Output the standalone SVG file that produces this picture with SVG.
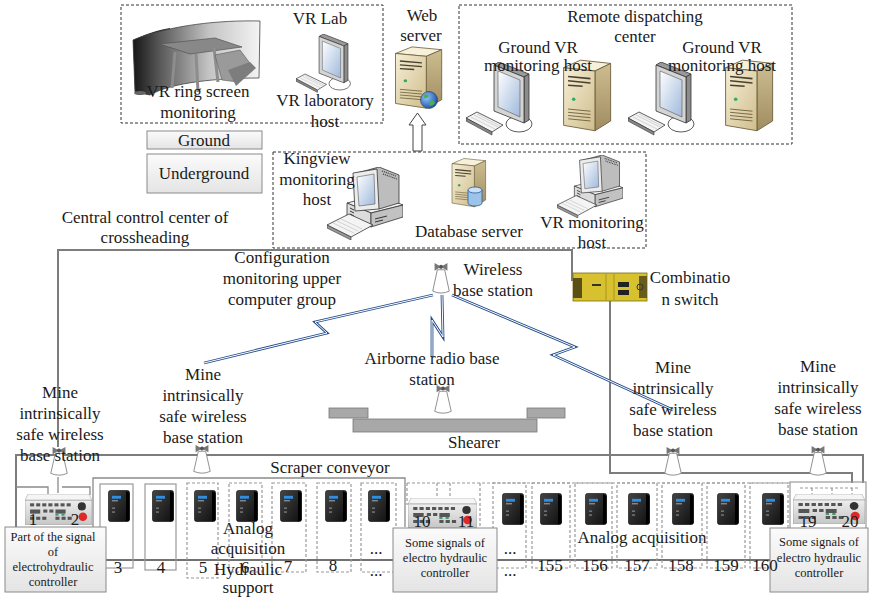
<svg xmlns="http://www.w3.org/2000/svg" width="874" height="599" viewBox="0 0 874 599" font-family="'Liberation Serif', 'Times New Roman', 'DejaVu Serif', serif">
<defs>
<style>
.t{font-family:'Liberation Serif','Times New Roman','DejaVu Serif',serif;font-size:17px;fill:#1a1a1a;text-anchor:middle}
.s{font-size:12.5px}
.gl{stroke:#7d7d7d;stroke-width:2;fill:none}
.thin{stroke:#8a8a8a;stroke-width:1.3;fill:none}
.dbox{stroke:#333;stroke-width:1;stroke-dasharray:3 2;fill:none}
.col{stroke:#9a9a9a;stroke-width:1.2;stroke-dasharray:3 2;fill:none}
.solidcol{stroke:#9a9a9a;stroke-width:1.2;fill:none}
.boltO{stroke:#27508f;stroke-width:2.8;fill:none;stroke-linejoin:miter}
.boltI{stroke:#fff;stroke-width:1;fill:none;stroke-linejoin:miter}
.lbl{fill:url(#gBox);stroke:#8a8a8a;stroke-width:1}
</style>
<linearGradient id="gSrvFront" x1="0" y1="0" x2="1" y2="1"><stop offset="0" stop-color="#f6efd6"/><stop offset="1" stop-color="#cfbd8c"/></linearGradient>
<linearGradient id="gSrvSide" x1="0" y1="0" x2="0" y2="1"><stop offset="0" stop-color="#cdbd8f"/><stop offset="1" stop-color="#a08d62"/></linearGradient>
<linearGradient id="gScreen" x1="0" y1="0" x2="1" y2="1"><stop offset="0" stop-color="#ffffff"/><stop offset="1" stop-color="#9fb9dc"/></linearGradient>
<linearGradient id="gRing" x1="0" y1="0" x2="1" y2="0"><stop offset="0" stop-color="#151515"/><stop offset="0.2" stop-color="#555"/><stop offset="0.6" stop-color="#c4c4c4"/><stop offset="1" stop-color="#f4f4f4"/></linearGradient>
<linearGradient id="gBox" x1="0" y1="0" x2="0" y2="1"><stop offset="0" stop-color="#fbfbfb"/><stop offset="1" stop-color="#e4e4e4"/></linearGradient>
<linearGradient id="gInv" x1="0" y1="0" x2="1" y2="1"><stop offset="0" stop-color="#444"/><stop offset="1" stop-color="#0e0e0e"/></linearGradient>
<linearGradient id="gCtl" x1="0" y1="0" x2="0" y2="1"><stop offset="0" stop-color="#eeeeee"/><stop offset="1" stop-color="#c6c6c6"/></linearGradient>
<radialGradient id="gGlobe" cx="0.35" cy="0.35" r="0.7"><stop offset="0" stop-color="#8fc4ff"/><stop offset="1" stop-color="#1d4fa8"/></radialGradient>

<symbol id="srv" viewBox="0 0 50 70" preserveAspectRatio="none">
<polygon points="5,9 20,2 47,5 33,12" fill="#f7f1dc" stroke="#6b5d3a" stroke-width="0.8"/>
<polygon points="33,12 47,5 47,58 33,67" fill="url(#gSrvSide)" stroke="#6b5d3a" stroke-width="0.8"/>
<polygon points="5,9 33,12 33,67 5,62" fill="url(#gSrvFront)" stroke="#6b5d3a" stroke-width="0.8"/>
<path d="M9,17 L29,19 M9,21 L29,23 M9,25 L22,26" stroke="#4a4030" stroke-width="1.4"/>
<circle cx="14" cy="38" r="1.6" fill="#3a6"/>
<path d="M9,47 L29,49 M9,50 L29,52 M9,53 L29,55 M9,56 L29,58" stroke="#6b5d3a" stroke-width="0.8"/>
</symbol>

<symbol id="lcd" viewBox="0 0 80 75" preserveAspectRatio="none">
<ellipse cx="53" cy="62" rx="13" ry="8" fill="#fff" stroke="#333" stroke-width="0.8"/>
<polygon points="28,3 33,0 63,12 58,15" fill="#9a9a9a" stroke="#333" stroke-width="0.8"/>
<polygon points="58,15 63,12 63,58 58,61" fill="#8c8c8c" stroke="#333" stroke-width="0.8"/>
<polygon points="28,3 58,15 58,61 28,49" fill="#d4d4d4" stroke="#333" stroke-width="0.8"/>
<polygon points="32,9 54,18 54,55 32,45" fill="url(#gScreen)" stroke="#555" stroke-width="0.6"/>
<polygon points="0,56 11,50 37,63 26,70" fill="#f4f4f4" stroke="#333" stroke-width="0.8"/>
<polygon points="0,56 26,70 26,73 0,59" fill="#888" stroke="#333" stroke-width="0.6"/>
<path d="M5,55 L29,67 M8,53 L32,65 M11,52 L34,64" stroke="#bbb" stroke-width="0.6"/>
</symbol>

<symbol id="pc" viewBox="0 0 76 73" preserveAspectRatio="none">
<polygon points="20,36 52,28 76,38 44,46" fill="#f4f4f4" stroke="#333" stroke-width="0.8"/>
<polygon points="20,36 44,46 44,60 20,50" fill="#dcdcdc" stroke="#333" stroke-width="0.8"/>
<polygon points="44,46 76,38 76,50 44,60" fill="#c2c2c2" stroke="#333" stroke-width="0.8"/>
<path d="M23,41 L27,43 M23,44 L27,46 M23,47 L27,49 M48,52 L60,49 M48,55 L56,53" stroke="#333" stroke-width="1"/>
<polygon points="30,6 52,0 72,8 72,36 52,42" fill="#bdbdbd" stroke="#333" stroke-width="0.8"/>
<polygon points="26,6 50,2 52,42 28,44" fill="#ececec" stroke="#333" stroke-width="0.8"/>
<polygon points="30,10 47,7 48,37 32,39" fill="url(#gScreen)" stroke="#555" stroke-width="0.6"/>
<path d="M55,4 L69,9 M56,7 L70,12" stroke="#333" stroke-width="1.2" stroke-dasharray="1 1"/>
<polygon points="0,58 22,47 46,58 24,70" fill="#f4f4f4" stroke="#333" stroke-width="0.8"/>
<polygon points="0,58 24,70 24,73 0,61" fill="#999" stroke="#333" stroke-width="0.6"/>
<path d="M6,56 L27,66 M10,54 L31,64 M14,52 L35,62" stroke="#bbb" stroke-width="0.6"/>
</symbol>

<symbol id="bs" viewBox="0 0 24 34" preserveAspectRatio="none">
<path d="M8,8 L16,8 L21,30 Q12,34 3,30 Z" fill="#fff" stroke="#888" stroke-width="1"/>
<path d="M5,1 L12,5 L19,1 L19,9 L12,5 L5,9 Z" fill="#777"/>
<circle cx="12" cy="5" r="2.2" fill="#555"/>
</symbol>

<symbol id="inv" viewBox="0 0 22 33" preserveAspectRatio="none">
<rect x="0.5" y="0.5" width="21" height="32" rx="2" fill="url(#gInv)" stroke="#000" stroke-width="0.6"/>
<polygon points="18,1 21.5,3 21.5,31 18,32.5" fill="#000"/>
<rect x="4" y="6" width="9" height="3" fill="#2f8ee0"/>
<rect x="4" y="10.5" width="6" height="1.2" fill="#999"/>
<rect x="4" y="18" width="3" height="1.5" fill="#777"/>
<rect x="4" y="22" width="3" height="1.5" fill="#777"/>
</symbol>

<symbol id="ctl" viewBox="0 0 66 30" preserveAspectRatio="none">
<polygon points="3,0 63,0 66,6 0,6" fill="#f5f5f5" stroke="#aaa" stroke-width="0.6"/>
<rect x="0" y="6" width="66" height="24" fill="url(#gCtl)" stroke="#999" stroke-width="0.6"/>
<g fill="#555">
<rect x="5" y="9" width="4" height="3"/><rect x="11" y="9" width="4" height="3"/><rect x="17" y="9" width="4" height="3"/><rect x="23" y="9" width="4" height="3"/><rect x="29" y="9" width="4" height="3"/><rect x="35" y="9" width="4" height="3"/><rect x="41" y="9" width="4" height="3"/>
<rect x="5" y="15" width="10" height="4"/><rect x="18" y="15" width="4" height="3"/><rect x="24" y="15" width="4" height="3"/><rect x="30" y="15" width="10" height="4"/>
<rect x="5" y="22" width="4" height="3"/><rect x="11" y="22" width="4" height="3"/><rect x="17" y="22" width="4" height="3"/><rect x="30" y="22" width="4" height="3"/><rect x="36" y="22" width="4" height="3"/><rect x="42" y="22" width="4" height="3"/>
</g>
<g fill="#3a9a70"><rect x="30" y="19" width="3" height="2"/><rect x="36" y="19" width="3" height="2"/></g>
<circle cx="56" cy="12" r="4" fill="#333"/>
<circle cx="57" cy="22" r="4.2" fill="#e02828"/>
</symbol>
</defs>

<rect width="874" height="599" fill="#fff"/>

<!-- ground-level facilities -->
<g id="vr-lab">
<rect class="dbox" x="121" y="5" width="262" height="118"/>
<path d="M133,40 C150,32 160,30 170,28 L170,38 C160,40 152,44 150,48 L150,95 L135,92 Z" fill="#2a2a2a"/>
<path d="M133,40 C170,25 220,20 260,21 L259,78 C220,78 172,82 150,95 L135,92 Z" fill="url(#gRing)" stroke="#444" stroke-width="0.8"/>
<polygon points="160,44 215,38 242,47 190,54" fill="#888" stroke="#555" stroke-width="0.7"/>
<path d="M175,52 L172,88 M196,54 L198,92 M214,48 L218,82" stroke="#8d8d8d" stroke-width="3"/>
<polygon points="215,55 240,50 252,66 238,82 222,80" fill="#9a9a9a" stroke="#666" stroke-width="0.7"/>
<polygon points="228,70 250,62 256,68 236,86" fill="#7d7d7d"/>
<ellipse cx="140" cy="93" rx="6" ry="2" fill="#666"/>
<use href="#lcd" x="296" y="34" width="66" height="60"/>
<text class="t" x="320" y="24">VR Lab</text>
<text class="t" x="198" y="97">VR ring screen</text>
<text class="t" x="198" y="118">monitoring</text>
<text class="t" x="325" y="106">VR laboratory</text>
<text class="t" x="325" y="127">host</text>
</g>

<g id="ground-label">
<rect class="lbl" x="147" y="131" width="115" height="18"/>
<text class="t" x="204" y="146">Ground</text>
</g>
<g id="underground-label">
<rect class="lbl" x="147" y="154" width="115" height="39"/>
<text class="t" x="204" y="179">Underground</text>
</g>

<g id="web-server">
<use href="#srv" x="390" y="45" width="55" height="66"/>
<circle cx="429" cy="100" r="8.5" fill="url(#gGlobe)" stroke="#234" stroke-width="0.6"/>
<path d="M424,95 Q427,93 429,96 Q427,99 424,98 Z M430,101 Q434,99 435,103 Q432,107 429,105 Z" fill="#4caf50"/>
<text class="t" x="422" y="21">Web</text>
<text class="t" x="421" y="41">server</text>
</g>

<g id="remote-dispatching-center">
<rect class="dbox" x="459" y="5" width="333" height="139"/>
<use href="#lcd" x="466" y="62" width="80" height="75"/>
<use href="#srv" x="558" y="58" width="56" height="76"/>
<use href="#lcd" x="628" y="62" width="80" height="75"/>
<use href="#srv" x="720" y="58" width="56" height="76"/>
<text class="t" x="635" y="22">Remote dispatching</text>
<text class="t" x="635" y="42">center</text>
<text class="t" x="538" y="53">Ground VR</text>
<text class="t" x="538" y="71">monitoring host</text>
<text class="t" x="722" y="53">Ground VR</text>
<text class="t" x="722" y="71">monitoring host</text>
</g>

<g id="uplink-arrow">
<polygon points="417.5,113 426,125 422,125 422,151 413,151 413,125 409,125" fill="#fff" stroke="#444" stroke-width="1"/>
</g>

<!-- connectors -->
<g id="connectors">
<path class="gl" d="M58,447 L58,250 L572,250 L572,280 L578,280"/>
<path class="gl" d="M610,300 L610,473 L852,473 L852,483"/>
<path class="gl" d="M16,527 L16,455 L863,455 L863,483"/>
<path class="thin" d="M16,487 L48,487 L48,495 M58,477 L58,493 M62,487 L90,487 L90,495"/>
<path class="thin" d="M93,530 L93,478 L405,478 L405,527"/>
<path d="M106,560 L393,560 M497,560 L770,560" stroke="#444" stroke-width="1.4" fill="none"/>
<path class="boltO" d="M433,295 L315,322 L327,333 L204,363"/>
<path class="boltI" d="M433,295 L315,322 L327,333 L204,363"/>
<path class="boltO" d="M442,295 L443,337 L432,320 L432,357"/>
<path class="boltI" d="M442,295 L443,337 L432,320 L432,357"/>
<path class="boltO" d="M452,295 L575,347 L553,355 L673,410"/>
<path class="boltI" d="M452,295 L575,347 L553,355 L673,410"/>
</g>

<!-- underground control room -->
<g id="kingview-group">
<rect class="dbox" x="273" y="152" width="373" height="96"/>
<use href="#pc" x="327" y="167" width="76" height="73"/>
<text class="t" x="317" y="164">Kingview</text>
<text class="t" x="317" y="185">monitoring</text>
<text class="t" x="317" y="205">host</text>
</g>
<g id="database-server">
<use href="#srv" x="448" y="157" width="40" height="52"/>
<path d="M468,190 L468,203 A7,3 0 0 0 482,203 L482,190" fill="#9cc3ea" stroke="#2a5e9a" stroke-width="0.8"/>
<ellipse cx="475" cy="190" rx="7" ry="3" fill="#c9e0f6" stroke="#2a5e9a" stroke-width="0.8"/>
<text class="t" x="469" y="237">Database server</text>
</g>
<g id="vr-monitoring-host">
<use href="#pc" x="557" y="155" width="66" height="63"/>
<text class="t" x="592" y="228">VR monitoring</text>
<text class="t" x="592" y="248">host</text>
</g>

<g id="central-control">
<text class="t" x="145" y="223">Central control center of</text>
<text class="t" x="145" y="243">crossheading</text>
<text class="t" x="282" y="263">Configuration</text>
<text class="t" x="282" y="284">monitoring upper</text>
<text class="t" x="282" y="305">computer group</text>
</g>

<g id="wireless-base-station">
<use href="#bs" x="430" y="262" width="22" height="33"/>
<text class="t" x="493" y="275">Wireless</text>
<text class="t" x="493" y="296">base station</text>
</g>

<g id="combination-switch">
<rect x="573" y="273" width="74" height="28" fill="#d8c12e" stroke="#7d6d12" stroke-width="0.8"/>
<rect x="573" y="278" width="9" height="20" fill="#5b4f18"/>
<rect x="639" y="276" width="8" height="22" fill="#6a5c1a"/>
<path d="M606,274 L606,300 M614,274 L614,300" stroke="#9c8a20" stroke-width="0.8"/>
<rect x="592" y="284" width="9" height="2" fill="#333"/>
<rect x="618" y="282" width="11" height="5" fill="#222"/>
<rect x="618" y="290" width="11" height="5" fill="#222"/>
<circle cx="640" cy="287" r="3" fill="none" stroke="#333" stroke-width="1"/>
<text class="t" x="690" y="283">Combinatio</text>
<text class="t" x="690" y="305">n switch</text>
</g>

<g id="airborne-radio-base-station">
<use href="#bs" x="432" y="384" width="22" height="31"/>
<text class="t" x="432" y="364">Airborne radio base</text>
<text class="t" x="432" y="385">station</text>
</g>

<g id="shearer">
<rect x="329" y="408" width="39" height="10" fill="#a8a8a8" stroke="#777" stroke-width="0.8"/>
<rect x="527" y="408" width="38" height="10" fill="#a8a8a8" stroke="#777" stroke-width="0.8"/>
<rect x="353" y="419" width="184" height="13" fill="#a8a8a8" stroke="#777" stroke-width="0.8"/>
<text class="t" x="474" y="448">Shearer</text>
</g>

<g id="mine-base-station-1">
<use href="#bs" x="48" y="446" width="22" height="31"/>
<text class="t" x="60" y="398">Mine</text>
<text class="t" x="60" y="419">intrinsically</text>
<text class="t" x="60" y="440">safe wireless</text>
<text class="t" x="60" y="461">base station</text>
</g>
<g id="mine-base-station-2">
<use href="#bs" x="191" y="444" width="22" height="31"/>
<text class="t" x="203" y="380">Mine</text>
<text class="t" x="203" y="401">intrinsically</text>
<text class="t" x="203" y="422">safe wireless</text>
<text class="t" x="203" y="443">base station</text>
</g>
<g id="mine-base-station-3">
<use href="#bs" x="662" y="446" width="22" height="31"/>
<text class="t" x="673" y="373">Mine</text>
<text class="t" x="673" y="394">intrinsically</text>
<text class="t" x="673" y="415">safe wireless</text>
<text class="t" x="673" y="436">base station</text>
</g>
<g id="mine-base-station-4">
<use href="#bs" x="807" y="445" width="22" height="32"/>
<text class="t" x="818" y="372">Mine</text>
<text class="t" x="818" y="393">intrinsically</text>
<text class="t" x="818" y="414">safe wireless</text>
<text class="t" x="818" y="435">base station</text>
</g>

<!-- hydraulic support row -->
<g id="support-columns">
<rect class="solidcol" x="100" y="484" width="33" height="84"/>
<rect class="solidcol" x="145" y="484" width="31" height="86"/>
<rect class="col" x="187" y="483" width="31" height="95"/>
<rect class="col" x="229" y="483" width="33" height="89"/>
<rect class="col" x="272" y="483" width="34" height="89"/>
<rect class="col" x="317" y="483" width="34" height="89"/>
<rect class="col" x="361" y="483" width="35" height="89"/>
<path class="col" d="M407,483 L790,483 M407,483 L407,505 M437,483 L437,496 M450,483 L450,496 M480,483 L480,560"/>
<rect class="col" x="493" y="483" width="33" height="85"/>
<rect class="col" x="532" y="483" width="38" height="85"/>
<rect class="col" x="575" y="483" width="37" height="85"/>
<rect class="col" x="617" y="483" width="40" height="85"/>
<rect class="col" x="662" y="483" width="40" height="85"/>
<rect class="col" x="707" y="483" width="38" height="85"/>
<rect class="col" x="750" y="483" width="38" height="85"/>
<rect class="solidcol" x="790" y="482" width="76" height="50"/>
<path class="col" d="M800,488 L860,488 M812,488 L812,495 M832,488 L832,495 M852,488 L852,495"/>
</g>

<g id="inverters">
<use href="#inv" x="108" y="490" width="22" height="32"/>
<use href="#inv" x="152" y="490" width="22" height="32"/>
<use href="#inv" x="194" y="490" width="22" height="32"/>
<use href="#inv" x="236" y="490" width="22" height="32"/>
<use href="#inv" x="280" y="490" width="22" height="32"/>
<use href="#inv" x="325" y="490" width="22" height="32"/>
<use href="#inv" x="368" y="490" width="22" height="32"/>
<use href="#inv" x="502" y="493" width="22" height="32"/>
<use href="#inv" x="540" y="493" width="22" height="32"/>
<use href="#inv" x="585" y="493" width="22" height="32"/>
<use href="#inv" x="628" y="493" width="22" height="32"/>
<use href="#inv" x="672" y="493" width="22" height="32"/>
<use href="#inv" x="717" y="493" width="22" height="32"/>
<use href="#inv" x="762" y="493" width="22" height="32"/>
</g>

<g id="controller-left">
<use href="#ctl" x="25" y="494" width="67" height="31"/>
<rect class="lbl" x="5" y="527" width="101" height="65"/>
<text class="t" x="33" y="525">1</text>
<text class="t" x="75" y="525">2</text>
<text class="t s" x="53" y="541">Part of the signal</text>
<text class="t s" x="53" y="556">of</text>
<text class="t s" x="53" y="571">electrohydraulic</text>
<text class="t s" x="53" y="586">controller</text>
</g>
<g id="controller-middle">
<use href="#ctl" x="408" y="498" width="69" height="30"/>
<rect class="lbl" x="393" y="528" width="104" height="64"/>
<text class="t" x="422" y="527">10</text>
<text class="t" x="466" y="527">11</text>
<text class="t s" x="445" y="547">Some signals of</text>
<text class="t s" x="445" y="562">electro hydraulic</text>
<text class="t s" x="445" y="577">controller</text>
</g>
<g id="controller-right">
<use href="#ctl" x="793" y="494" width="72" height="30"/>
<rect class="lbl" x="770" y="528" width="98" height="64"/>
<text class="t" x="808" y="527">19</text>
<text class="t" x="850" y="527">20</text>
<text class="t s" x="819" y="546">Some signals of</text>
<text class="t s" x="819" y="562">electro hydraulic</text>
<text class="t s" x="819" y="577">controller</text>
</g>

<g id="row-labels">
<text class="t" x="330" y="473">Scraper conveyor</text>
<text class="t" x="118" y="573">3</text>
<text class="t" x="161" y="573">4</text>
<text class="t" x="203" y="573">5</text>
<text class="t" x="245" y="573">6</text>
<text class="t" x="288" y="572">7</text>
<text class="t" x="333" y="571">8</text>
<text class="t" x="376" y="554">...</text>
<text class="t" x="376" y="576">...</text>
<text class="t" x="248" y="534">Analog</text>
<text class="t" x="248" y="554">acquisition</text>
<text class="t" x="248" y="575">Hydraulic</text>
<text class="t" x="248" y="593">support</text>
<text class="t" x="510" y="554">...</text>
<text class="t" x="510" y="576">...</text>
<text class="t" x="550" y="571">155</text>
<text class="t" x="595" y="571">156</text>
<text class="t" x="637" y="571">157</text>
<text class="t" x="681" y="571">158</text>
<text class="t" x="726" y="571">159</text>
<text class="t" x="765" y="571">160</text>
<text class="t" x="642" y="543">Analog acquisition</text>
</g>
</svg>
